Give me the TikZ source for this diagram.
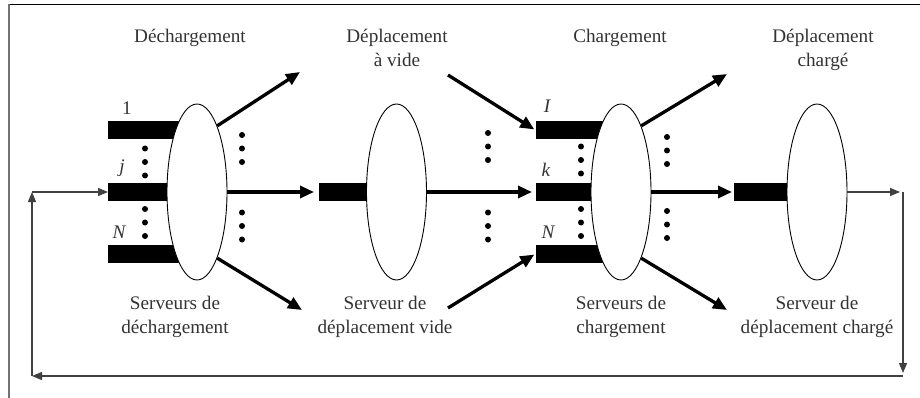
\documentclass[tikz,border=0pt]{standalone}
\usepackage{fontspec}
\setmainfont{Liberation Serif}
\usetikzlibrary{shapes.geometric,arrows.meta}

\tikzset{
  srv/.style={draw, ellipse, fill=white, line width=0.9pt, minimum width=60pt, minimum height=176pt, inner sep=0pt},
  queue/.style={fill=black, inner sep=0pt, minimum height=18pt, anchor=west},
  lbl/.style={font=\fontsize{19.2}{24}\selectfont\itshape, text=black!80, anchor=base, inner sep=0pt},
  txt/.style={font=\fontsize{19.2}{24}\selectfont, align=center, text=black!80, anchor=base, inner sep=0pt},
  bigarrow/.style={line width=3.3pt, -{Triangle[length=14pt,width=12pt]}},
  backline/.style={line width=1.3pt, draw=black!75, -{Triangle[length=10pt,width=8pt]}},
}
\newcommand{\dotcol}[2]{\fill (#1,#2-13.5) circle (3pt) (#1,#2) circle (3pt) (#1,#2+13.5) circle (3pt);}

\begin{document}
\begin{tikzpicture}[x=1pt,y=-1pt]
\useasboundingbox (0,0) rectangle (920,398);
% frame
\draw[line width=1.5pt] (8,4.5) -- (920,4.5);
\draw[line width=2pt, black!55] (8.5,4) -- (8.5,398);

% queues
\node (q1a) at (108,130.5) [queue, minimum width=89pt] {};
\node (q1j) at (108,192) [queue, minimum width=89pt] {};
\node (q1n) at (108,253.5) [queue, minimum width=89pt] {};
\node (q2) at (319,192) [queue, minimum width=77pt] {};
\node (q3a) at (536,130.5) [queue, minimum width=85pt] {};
\node (q3k) at (536,192) [queue, minimum width=85pt] {};
\node (q3n) at (536,253.5) [queue, minimum width=85pt] {};
\node (q4) at (734,192) [queue, minimum width=83pt] {};

% servers
\node (e1) at (197,192) [srv] {};
\node (e2) at (396.5,192) [srv] {};
\node (e3) at (621,192) [srv] {};
\node (e4) at (817,192) [srv] {};

% queue labels
\node (n1) at (127,115) [lbl] {\upshape 1};
\node (nj) at (122,173) [lbl] {j};
\node (nn) at (119,238) [lbl] {N};
\node (ni) at (547,113) [lbl] {I};
\node (nk) at (546,177) [lbl] {k};
\node (nm) at (548,238) [lbl] {N};

% dots
\dotcol{145}{162}
\dotcol{145}{222.5}
\dotcol{242}{148.5}
\dotcol{242}{226}
\dotcol{488}{146.5}
\dotcol{488}{226}
\dotcol{581}{160}
\dotcol{581}{222.5}
\dotcol{667}{150.5}
\dotcol{667}{224.5}

% free ends
\coordinate (o1) at (300,72);
\coordinate (o2) at (302,310);
\coordinate (i1) at (448,75);
\coordinate (i2) at (448,308);
\coordinate (o3) at (727,74);
\coordinate (o4) at (727,310);
\coordinate (r1) at (903,192);
\coordinate (r2) at (903,376);
\coordinate (l2) at (32,376);
\coordinate (l1) at (32,192);

% flows
\draw[bigarrow] (e1.73) -- (o1);
\draw[bigarrow] (e1.-73) -- (o2);
\draw[bigarrow, shorten >=5pt] (e1.east) -- (q2.west);
\draw[bigarrow, shorten >=2pt] (i1) -- (q3a.west);
\draw[bigarrow, shorten >=4pt] (e2.east) -- (q3k.west);
\draw[bigarrow, shorten >=2pt] (i2) -- (q3n.west);
\draw[bigarrow] (e3.73) -- (o3);
\draw[bigarrow] (e3.-73) -- (o4);
\draw[bigarrow, shorten >=2pt] (e3.east) -- (q4.west);

% return loop
\draw[backline, shorten >=3pt] (e4.east) -- (r1);
\draw[backline, shorten >=3pt] (r1) -- (r2);
\draw[backline] (r2) -- (l2);
\draw[backline] (l2) -- (l1);
\draw[backline] (l1) -- (q1j.west);

% texts (base = last line)
\node (t1) at (190,42.5) [txt] {Déchargement};
\node (t2) at (397,66.5) [txt] {Déplacement\\à vide};
\node (t3) at (620,42.5) [txt] {Chargement};
\node (t4) at (823,66.5) [txt] {Déplacement\\chargé};
\node (s1) at (175,333.5) [txt] {Serveurs de\\déchargement};
\node (s2) at (385,333.5) [txt] {Serveur de\\déplacement vide};
\node (s3) at (621,333.5) [txt] {Serveurs de\\chargement};
\node (s4) at (817,333.5) [txt] {Serveur de\\déplacement chargé};
\end{tikzpicture}
\end{document}
